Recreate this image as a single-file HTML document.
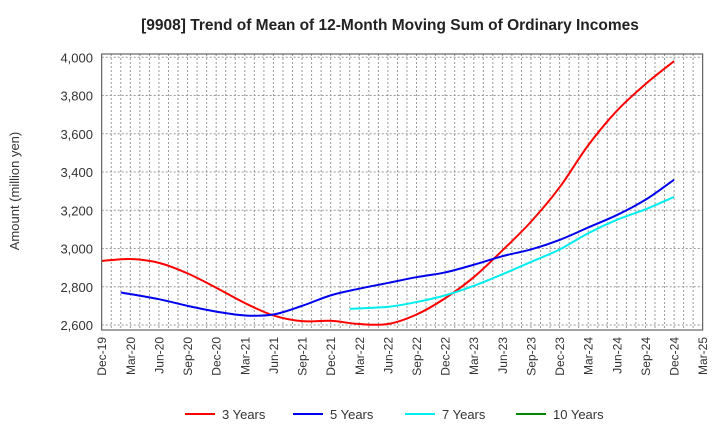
<!DOCTYPE html>
<html><head><meta charset="utf-8"><style>
body{margin:0;background:#fff;font-family:"Liberation Sans",sans-serif}
</style></head><body>
<svg id="c" width="720" height="440" xmlns="http://www.w3.org/2000/svg">
<text x="390" y="30" text-anchor="middle" font-size="15.5" font-weight="bold" fill="#222">[9908]  Trend of Mean of 12-Month Moving Sum of Ordinary Incomes</text>
<text transform="translate(19,191) rotate(-90)" text-anchor="middle" font-size="13" fill="#333">Amount (million yen)</text>
<g id="grid"></g><g id="ticks"></g><g id="series"></g>
<rect x="101.7" y="54" width="601" height="276" fill="none" stroke="#444" stroke-width="1"/>
<g id="legend"></g>
</svg>
<script>
const xLabels=["Dec-19","Mar-20","Jun-20","Sep-20","Dec-20","Mar-21","Jun-21","Sep-21","Dec-21","Mar-22","Jun-22","Sep-22","Dec-22","Mar-23","Jun-23","Sep-23","Dec-23","Mar-24","Jun-24","Sep-24","Dec-24","Mar-25"];
const yTicks=[2600,2800,3000,3200,3400,3600,3800,4000];
const s3=[2935,2945,2925,2870,2795,2715,2650,2620,2622,2605,2605,2655,2740,2850,2990,3140,3320,3540,3720,3860,3980];
const s5=[null,2770,2735,2700,2670,2650,2655,2700,2755,2790,2820,2850,2875,2915,2960,2995,3045,3110,3175,3255,3360];
const s7=[null,null,null,null,null,null,null,null,null,2685,2695,2720,2755,2805,2865,2930,2995,3080,3150,3205,3270];
const s10=[];
// series that begin one month before their first quarter-end value
const startsEarly=[false,true,true,false];
const names=["3 Years","5 Years","7 Years","10 Years"];
const colors=["#ff0000","#0000ee","#00eeee","#008800"];
const NS="http://www.w3.org/2000/svg";
const L=101.7,R=702.7,T=54,B=330;
const x=i=>L+i*(R-L)/21;
const y=v=>325-(v-2600)*(267.7/1400);
function mk(tag,attrs,parent){const e=document.createElementNS(NS,tag);for(const k in attrs)e.setAttribute(k,attrs[k]);document.getElementById(parent).appendChild(e);return e;}
for(let m=1;m<63;m++){const gx=L+m*(R-L)/63;const e=mk('line',{x1:gx,x2:gx,y1:T,y2:B,stroke:'#999','stroke-dasharray':'2,2','stroke-width':1},'grid');

}
yTicks.forEach(v=>{const e=mk('line',{x1:L,x2:R,y1:y(v),y2:y(v),stroke:'#999','stroke-dasharray':'2,2'},'grid');


const t=mk('text',{x:93,y:y(v)+5,'text-anchor':'end','font-size':13,fill:'#333'},'ticks');t.textContent=v.toLocaleString('en-US');

});
xLabels.forEach((lb,i)=>{const t=mk('text',{transform:`translate(${x(i)+4.5},337) rotate(-90)`,'text-anchor':'end','font-size':12,fill:'#333'},'ticks');t.textContent=lb;

});
function path(arr,early){const p=[];arr.forEach((v,i)=>{if(v!=null)p.push([x(i),y(v)]);});if(p.length<2)return '';
if(early){p[0]=[p[0][0]-(R-L)/63,p[0][1]];}
let d=`M${p[0][0]},${p[0][1]}`;for(let i=0;i<p.length-1;i++){const p0=p[Math.max(0,i-1)],p1=p[i],p2=p[i+1],p3=p[Math.min(p.length-1,i+2)];
d+=` C${p1[0]+(p2[0]-p0[0])/6},${p1[1]+(p2[1]-p0[1])/6} ${p2[0]-(p3[0]-p1[0])/6},${p2[1]-(p3[1]-p1[1])/6} ${p2[0]},${p2[1]}`;}return d;}
[s3,s5,s7,s10].forEach((s,k)=>{const d=path(s,startsEarly[k]);if(!d)return;const e=mk('path',{d:d,fill:'none',stroke:colors[k],'stroke-width':2},'series');

});
const lx=[185,293,405,516];
names.forEach((n,k)=>{const e=mk('line',{x1:lx[k],x2:lx[k]+30,y1:414,y2:414,stroke:colors[k],'stroke-width':2},'legend');


const t=mk('text',{x:lx[k]+37,y:419,'font-size':13,fill:'#333'},'legend');t.textContent=n;

});
</script>
</body></html>
